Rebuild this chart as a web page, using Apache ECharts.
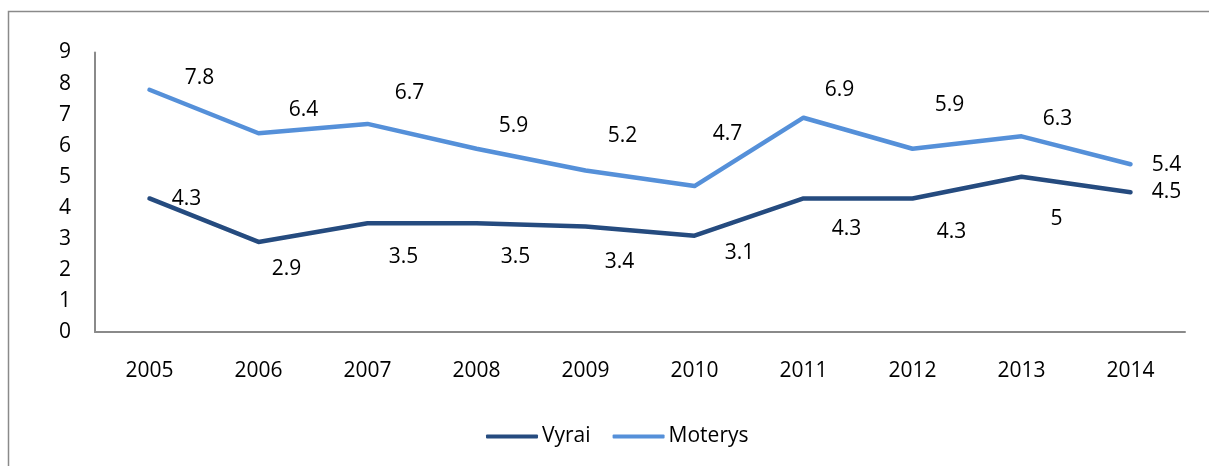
<!DOCTYPE html>
<html>
<head>
<meta charset="utf-8">
<script src="https://cdn.jsdelivr.net/npm/echarts@6/dist/echarts.min.js"></script>
<style>
html,body{margin:0;padding:0;background:#fff;}
#chart{width:1209px;height:466px;}
</style>
</head>
<body>
<div id="chart"></div>
<script>
const categories = ['2005','2006','2007','2008','2009','2010','2011','2012','2013','2014'];
const vyrai = [4.3, 2.9, 3.5, 3.5, 3.4, 3.1, 4.3, 4.3, 5, 4.5];
const moterys = [7.8, 6.4, 6.7, 5.9, 5.2, 4.7, 6.9, 5.9, 6.3, 5.4];
const seriesNames = ['Vyrai', 'Moterys'];

// label placement (pixel offsets from each point), layout only
const vyraiLabelOffsets = [[37,1],[28,27],[36,34],[39,34],[34,36],[45,17],[43,31],[39,34],[35,42],[36,0]];
const moterysLabelOffsets = [[50,-12],[45,-23],[42,-31],[37,-23],[37,-34],[33,-52],[36,-28],[37,-44],[36,-17],[36,1]];

const FONT = 'Open Sans';
const FS = 21;

function buildData(values, offsets) {
  return values.map((v, i) => ({
    value: v,
    label: { offset: offsets[i] }
  }));
}

function lineSeries(name, values, offsets, color) {
  return {
    name: name,
    type: 'line',
    data: buildData(values, offsets),
    symbol: 'circle',
    symbolSize: 1,
    showSymbol: true,
    itemStyle: { color: color },
    lineStyle: { color: color, width: 4.5, cap: 'round', join: 'round' },
    label: {
      show: true,
      position: 'inside',
      color: '#000',
      fontFamily: FONT,
      fontSize: FS
    },
    emphasis: { disabled: true },
    animation: false
  };
}

const chart = echarts.init(document.getElementById('chart'));
chart.setOption({
  animation: false,
  backgroundColor: '#fff',
  graphic: [{
    type: 'rect',
    shape: { x: 8.5, y: 11.5, width: 1400, height: 600 },
    style: { fill: 'none', stroke: '#8a8a8a', lineWidth: 1.5 },
    silent: true
  }],
  grid: { left: 95, right: 24, top: 52.5, bottom: 134 },
  legend: {
    data: seriesNames,
    left: 481,
    top: 421,
    itemWidth: 52,
    itemHeight: 4,
    itemGap: 22,
    icon: 'roundRect',
    textStyle: { fontFamily: FONT, fontSize: FS, color: '#000', padding: [0,0,0,-1] }
  },
  xAxis: {
    type: 'category',
    data: categories,
    boundaryGap: true,
    axisLine: { lineStyle: { color: '#8a8a8a', width: 2 } },
    axisTick: { show: false },
    axisLabel: { color: '#000', fontFamily: FONT, fontSize: FS, margin: 29 },
    splitLine: { show: false }
  },
  yAxis: {
    type: 'value',
    min: 0, max: 9, interval: 1,
    axisLine: { show: true, lineStyle: { color: '#8a8a8a', width: 2 } },
    axisTick: { show: false },
    axisLabel: { color: '#000', fontFamily: FONT, fontSize: FS, margin: 24 },
    splitLine: { show: false }
  },
  series: [
    lineSeries(seriesNames[0], vyrai, vyraiLabelOffsets, '#254b7f'),
    lineSeries(seriesNames[1], moterys, moterysLabelOffsets, '#5590d9')
  ]
});
</script>
</body>
</html>
